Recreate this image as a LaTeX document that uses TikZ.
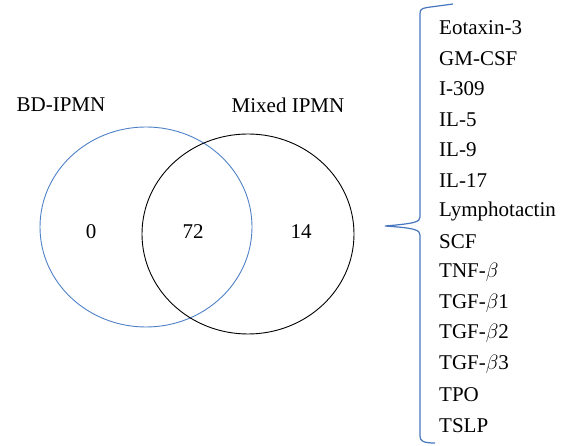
\documentclass[tikz,border=0pt]{standalone}
\usepackage{fontspec}
\setmainfont{Liberation Serif}
\usetikzlibrary{calc}

\definecolor{setblue}{RGB}{79,129,199}
\definecolor{braceblue}{RGB}{70,118,192}

\tikzset{
  vlabel/.style={font=\fontsize{21}{25}\selectfont, inner sep=0pt},
  item/.style={font=\fontsize{21}{25}\selectfont, anchor=west, inner sep=0pt},
}

\begin{document}
\begin{tikzpicture}[x=1pt, y=1pt]
\useasboundingbox (0,0) rectangle (567,446);
% the two sets
\draw[setblue, line width=0.9pt] (146,219) ellipse [x radius=106, y radius=100];
\draw[black, line width=0.9pt] (248,212) ellipse [x radius=106, y radius=100];
\node[vlabel] (bd) at (61,341) {BD-IPMN};
\node[vlabel] (mixed) at (288,341) {Mixed IPMN};
\node[vlabel] (only) at (91,214) {0};
\node[vlabel] (both) at (193,214) {72};
\node[vlabel] (mixonly) at (301,214) {14};
% the brace
\draw[braceblue, line width=1.2pt] (453,442) -- (427,438.5)
  .. controls (421,437.5) and (420,436) .. (420,432) -- (420,229)
  .. controls (420,224) and (415,222.5) .. (385,220)
  .. controls (415,218) and (420,216) .. (420,211) -- (420,10)
  .. controls (420,5) and (423,3) .. (435,3);
% the list
\foreach \name [count=\i] in {Eotaxin-3, GM-CSF, I-309, IL-5, IL-9, IL-17, Lymphotactin, SCF,
  TNF-$\beta$, TGF-$\beta$1, TGF-$\beta$2, TGF-$\beta$3, TPO, TSLP}
  \node[item] (item\i) at (439,{418.3-30.6*(\i-1)}) {\name};
\end{tikzpicture}
\end{document}
